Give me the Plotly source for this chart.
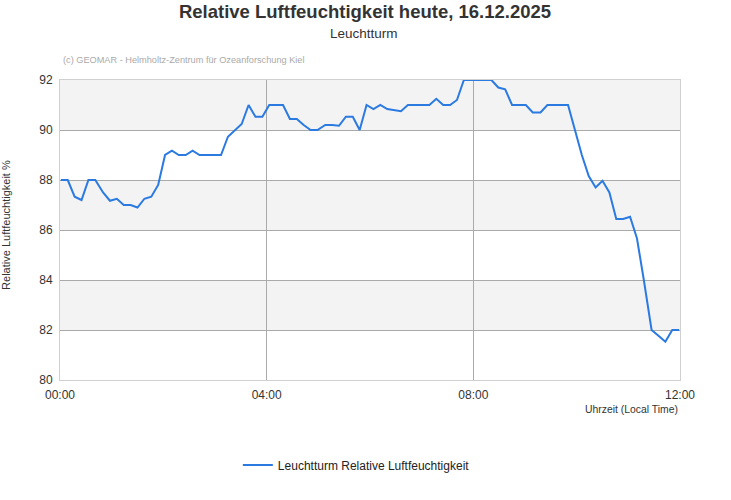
import plotly.graph_objects as go

DAY = "2025-12-16"
times = ["00:01","00:09","00:17","00:25","00:33","00:41","00:50","00:58","01:06","01:14",
         "01:22","01:30","01:38","01:46","01:54","02:02","02:10","02:18","02:26","02:34",
         "02:42","02:50","02:59","03:07","03:15","03:23","03:31","03:39","03:47","03:55",
         "04:03","04:11","04:19","04:27","04:35","04:43","04:51","04:59","05:08","05:16",
         "05:24","05:32","05:40","05:48","05:56","06:04","06:12","06:20","06:28","06:36",
         "06:44","06:52","07:00","07:09","07:17","07:25","07:33","07:41","07:49","07:57",
         "08:05","08:13","08:21","08:29","08:37","08:45","08:53","09:01","09:09","09:18",
         "09:26","09:34","09:42","09:50","09:58","10:06","10:14","10:22","10:30","10:38",
         "10:46","10:54","11:02","11:10","11:18","11:27","11:35","11:43","11:51","11:59"]
humidity = [88.0, 88.0, 87.33, 87.2, 88.0, 88.0, 87.5, 87.17, 87.25, 87.0,
            87.0, 86.9, 87.25, 87.33, 87.8, 89.0, 89.17, 89.0, 89.0, 89.17,
            89.0, 89.0, 89.0, 89.0, 89.73, 90.0, 90.24, 91.0, 90.53, 90.53,
            91.0, 91.0, 91.0, 90.44, 90.44, 90.2, 90.0, 90.0, 90.2, 90.2,
            90.17, 90.53, 90.53, 90.0, 91.0, 90.84, 91.0, 90.84, 90.8, 90.75,
            91.0, 91.0, 91.0, 91.0, 91.25, 91.0, 91.0, 91.2, 92.0, 92.0,
            92.0, 92.0, 92.0, 91.7, 91.63, 91.0, 91.0, 91.0, 90.7, 90.7,
            91.0, 91.0, 91.0, 91.0, 90.0, 89.0, 88.16, 87.7, 87.97, 87.5,
            86.44, 86.44, 86.53, 85.67, 84.0, 82.0, 81.77, 81.53, 82.0, 82.0]
y_ticks = [80, 82, 84, 86, 88, 90, 92]
x_ticks = ["00:00", "04:00", "08:00", "12:00"]

FONT = "Liberation Sans, Arial, sans-serif"
x = [f"{DAY} {t}" for t in times]

fig = go.Figure()
fig.add_trace(go.Scatter(
    x=x, y=humidity, mode="lines",
    name="Leuchtturm Relative Luftfeuchtigkeit",
    line=dict(color="#2a7ae2", width=2),
))

# alternating background bands
shapes = []
for i in range(len(y_ticks) - 1):
    if (len(y_ticks) - 2 - i) % 2 == 0:
        shapes.append(dict(type="rect", xref="paper", yref="y", x0=0, x1=1,
                           y0=y_ticks[i], y1=y_ticks[i + 1],
                           fillcolor="#f3f3f3", line=dict(width=0), layer="below"))

fig.update_layout(
    width=731, height=500,
    margin=dict(l=60, r=51, t=80, b=120),
    paper_bgcolor="white", plot_bgcolor="white",
    font=dict(family=FONT, color="#333", size=12),
    title=dict(
        text="<b>Relative Luftfeuchtigkeit heute, 16.12.2025</b>",
        x=0.4993, xanchor="center", xref="container", y=0.976, yanchor="middle",
        yref="container",
        font=dict(size=18.5, color="#333", family=FONT),
    ),
    shapes=shapes,
    showlegend=True,
    legend=dict(orientation="h", x=0.478, xanchor="center", y=-0.283, yanchor="middle",
                font=dict(size=12, color="#222"), itemwidth=30),
    xaxis=dict(
        type="date",
        range=[f"{DAY} {x_ticks[0]}", f"{DAY} {x_ticks[-1]}"],
        tickvals=[f"{DAY} {t}" for t in x_ticks],
        ticktext=x_ticks,
        showgrid=True, gridcolor="#aaaaaa", gridwidth=1,
        showline=True, linecolor="#d0d0d0", mirror=True, linewidth=1,
        ticks="", tickfont=dict(size=12, color="#333"), ticklabelstandoff=4,
        zeroline=False,
    ),
    yaxis=dict(
        range=[y_ticks[0], y_ticks[-1]],
        tickvals=y_ticks,
        showgrid=True, gridcolor="#aaaaaa", gridwidth=1,
        showline=True, linecolor="#d0d0d0", mirror=True, linewidth=1,
        ticks="", tickfont=dict(size=12, color="#333"), ticklabelstandoff=4,
        zeroline=False, layer="below traces",
    ),
    annotations=[
        dict(text="Leuchtturm", xref="paper", yref="paper", x=0.49, y=1.0,
             yshift=47, xanchor="center", yanchor="middle", showarrow=False,
             font=dict(size=13.5, color="#333")),
        dict(text="(c) GEOMAR - Helmholtz-Zentrum für Ozeanforschung Kiel",
             xref="paper", yref="paper", x=0, y=1.0, xshift=1, yshift=20,
             xanchor="left", yanchor="middle", showarrow=False,
             font=dict(size=9.2, color="#aaaaaa")),
        dict(text="Uhrzeit (Local Time)", xref="paper", yref="paper", x=1, y=0,
             yshift=-29, xanchor="right", yanchor="middle", showarrow=False,
             font=dict(size=10.4, color="#333")),
        dict(text="Relative Luftfeuchtigkeit %", xref="paper", yref="paper",
             x=0, xshift=-54, y=0.517, xanchor="center", yanchor="middle",
             textangle=-90, showarrow=False, font=dict(size=11, color="#333")),
    ],
)

fig.write_html("out.html",
               config={"displayModeBar": False},
               post_script="document.body.style.margin='0';")
